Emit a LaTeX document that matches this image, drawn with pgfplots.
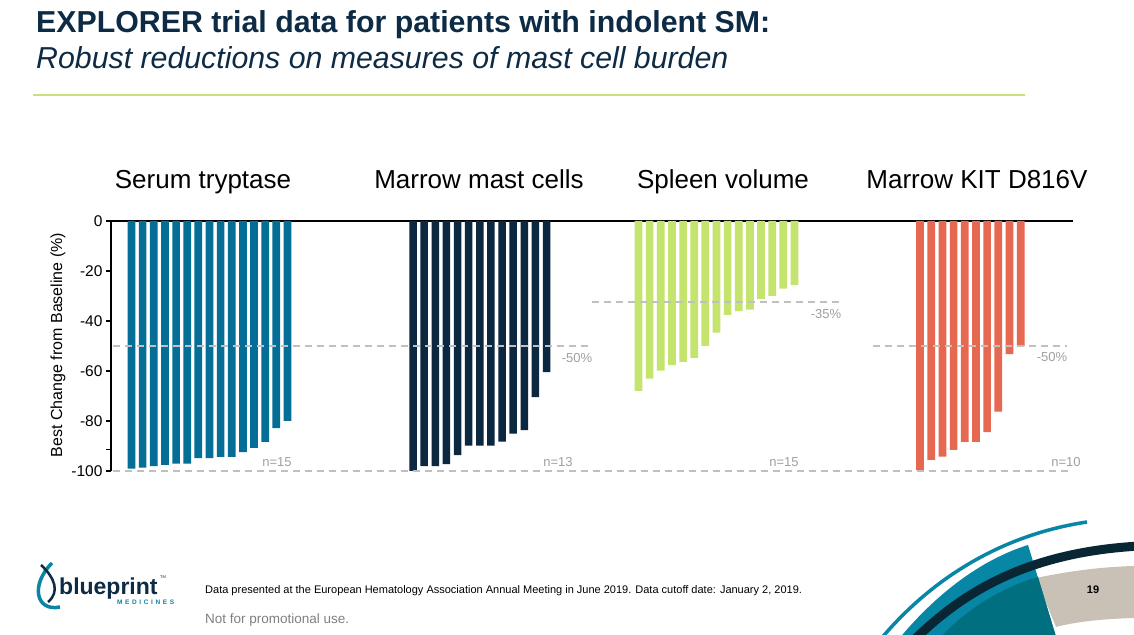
\documentclass[border=0pt]{standalone}
\usepackage{pgfplots}
\pgfplotsset{compat=1.18}
\usepackage{fontspec}
\setmainfont{Liberation Sans}
\definecolor{serum}{RGB}{4,110,150}
\definecolor{marrow}{RGB}{12,39,64}
\definecolor{spleen}{RGB}{196,228,109}
\definecolor{kit}{RGB}{231,104,81}
\definecolor{titlenavy}{RGB}{13,43,69}
\definecolor{linegreen}{RGB}{200,225,125}
\definecolor{refgray}{RGB}{192,192,192}
\definecolor{lblgray}{RGB}{160,160,160}
\definecolor{tealA}{RGB}{8,134,166}
\definecolor{tealB}{RGB}{0,112,128}
\definecolor{navyarc}{RGB}{8,38,52}
\definecolor{beige}{RGB}{201,193,181}
\begin{document}
\begin{tikzpicture}[x=1bp,y=1bp]
\path[use as bounding box] (0,0) rectangle (1134,635);
\fill[white] (0,0) rectangle (1134,635);

\begin{scope}[shift={(0,635)}, yscale=-1]
\clip (0,0) rectangle (1134,635);
% title
\node[anchor=base west, inner sep=0, text=titlenavy, font=\fontsize{30.3bp}{33bp}\selectfont\bfseries] at (36,33) {EXPLORER trial data for patients with indolent SM:};
\node[anchor=base west, inner sep=0, text=titlenavy, font=\fontsize{30.3bp}{33bp}\selectfont\itshape] at (36,69) {Robust reductions on measures of mast cell burden};
\draw[linegreen, line width=2bp] (33,95) -- (1025,95);
% group titles
\foreach \xx/\tt in {203/Serum tryptase, 479/Marrow mast cells, 723/Spleen volume, 977/Marrow KIT D816V}
  \node[anchor=base, inner sep=0, font=\fontsize{26bp}{28bp}\selectfont] at (\xx,189) {\tt};
% y label
\node[rotate=90, inner sep=0, font=\fontsize{16bp}{17bp}\selectfont] at (58,345) {Best Change from Baseline (\%)};
% decorations
\fill[beige] (1036,578) .. controls (1070,571) and (1100,567) .. (1134,566) -- (1134,618) .. controls (1100,619) and (1075,622) .. (1056,627) -- cycle;
\fill[tealA] (898,640) .. controls (935,595) and (980,560) .. (1028,545) -- (1057,640) -- cycle;
\fill[tealB] (938,640) .. controls (965,610) and (1000,588) .. (1038,577) -- (1057,640) -- cycle;
\draw[navyarc, line width=9bp] (914,640) .. controls (965,590) and (1030,552) .. (1140,546);
\draw[tealA, line width=3.5bp] (880,640) .. controls (930,580) and (1000,535) .. (1087,522);
\node[font=\fontsize{11bp}{12bp}\selectfont\bfseries, inner sep=0] at (1093,590) {19};
% logo
\draw[tealA, line width=3.5bp] (52,563) .. controls (30,585) and (36,612) .. (60,607);
\draw[titlenavy, line width=2.5bp] (41,565) .. controls (55,578) and (60,592) .. (48,602);
\node[anchor=base west, inner sep=0, text=titlenavy, font=\fontsize{23bp}{25bp}\selectfont\bfseries] at (59,595) {blueprint};
\node[anchor=base west, inner sep=0, text=tealA, font=\fontsize{6.5bp}{7bp}\selectfont\bfseries\addfontfeatures{LetterSpace=40}] at (117,605) {MEDICINES};
\node[anchor=base west, inner sep=0, text=titlenavy, font=\fontsize{4bp}{5bp}\selectfont] at (160,579) {TM};
% footer
\node[anchor=base west, inner sep=0, font=\fontsize{11bp}{12bp}\selectfont] at (205,594) {Data presented at the European Hematology Association Annual Meeting in June 2019. Data cutoff date: January 2, 2019.};
\node[anchor=base west, inner sep=0, text=gray, font=\fontsize{13.5bp}{15bp}\selectfont] at (205,624) {Not for promotional use.};
\end{scope}

\begin{axis}[
  at={(111bp,164bp)}, anchor=south west,
  scale only axis, width=962bp, height=250bp,
  xmin=111, xmax=1073, ymin=-100, ymax=0,
  clip=false,
  axis x line*=top, axis y line*=left,
  xtick=\empty,
  ytick={-100,-80,-60,-40,-20,0},
  yticklabels={-100,-80,-60,-40,-20,0},
  extra y ticks={-91.5}, extra y tick labels={},
  tick align=outside, major tick length=5bp,
  axis line style={black, line width=1.3bp},
  ytick style={black, line width=1.2bp},
  extra y tick style={ytick style={black, line width=1.2bp}},
  yticklabel style={font=\fontsize{15.5bp}{15.5bp}\selectfont},
]
\addplot[ybar, bar shift=0pt, bar width=7.7, fill=serum, draw=none] coordinates {
(131.5,-99.1) (142.6,-98.7) (153.8,-98.1) (164.9,-97.6) (176.1,-97.1) (187.2,-97.1) (198.3,-94.9) (209.5,-94.9) (220.6,-94.4) (231.8,-94.4) (242.9,-92.5) (254.0,-90.8) (265.2,-88.4) (276.3,-82.9) (287.5,-80.0)};
\addplot[ybar, bar shift=0pt, bar width=7.5, fill=marrow, draw=none] coordinates {
(413.0,-100) (424.1,-98.1) (435.3,-98.1) (446.4,-97.3) (457.5,-93.7) (468.6,-89.9) (479.8,-89.9) (490.9,-89.9) (502.0,-88.3) (513.1,-85.1) (524.3,-83.7) (535.4,-70.5) (546.5,-60.5)};
\addplot[ybar, bar shift=0pt, bar width=7.7, fill=spleen, draw=none] coordinates {
(638.5,-68.0) (649.6,-63.1) (660.8,-59.9) (671.9,-57.7) (683.1,-56.4) (694.2,-54.8) (705.3,-50.0) (716.5,-44.7) (727.6,-37.6) (738.8,-36.1) (749.9,-35.5) (761.0,-31.2) (772.2,-30.0) (783.3,-27.1) (794.5,-25.6)};
\addplot[ybar, bar shift=0pt, bar width=7.7, fill=kit, draw=none] coordinates {
(920.0,-99.7) (931.2,-95.6) (942.4,-94.3) (953.6,-91.6) (964.8,-88.4) (975.9,-88.4) (987.1,-84.5) (998.3,-76.3) (1009.5,-53.3) (1020.7,-50.0)};
% reference lines
\addplot[refgray, dash pattern=on 7bp off 5bp, line width=1.2bp] coordinates {(113,-50) (588,-50)};
\addplot[refgray, dash pattern=on 7bp off 5bp, line width=1.2bp] coordinates {(592,-32.4) (840,-32.4)};
\addplot[refgray, dash pattern=on 7bp off 5bp, line width=1.2bp] coordinates {(873,-50) (1067,-50)};
\addplot[refgray, dash pattern=on 7bp off 5bp, line width=1.2bp] coordinates {(113,-100) (1073,-100)};
% labels
\node[text=lblgray, font=\fontsize{13bp}{14bp}\selectfont, inner sep=0] at (axis cs:577,-54.8) {-50\%};
\node[text=lblgray, font=\fontsize{13bp}{14bp}\selectfont, inner sep=0] at (axis cs:826,-37.2) {-35\%};
\node[text=lblgray, font=\fontsize{13bp}{14bp}\selectfont, inner sep=0] at (axis cs:1052,-54.4) {-50\%};
\node[text=lblgray, font=\fontsize{13bp}{14bp}\selectfont, inner sep=0] at (axis cs:277,-96.4) {n=15};
\node[text=lblgray, font=\fontsize{13bp}{14bp}\selectfont, inner sep=0] at (axis cs:558,-96.4) {n=13};
\node[text=lblgray, font=\fontsize{13bp}{14bp}\selectfont, inner sep=0] at (axis cs:784,-96.4) {n=15};
\node[text=lblgray, font=\fontsize{13bp}{14bp}\selectfont, inner sep=0] at (axis cs:1066,-96.4) {n=10};
\end{axis}
\end{tikzpicture}
\end{document}
